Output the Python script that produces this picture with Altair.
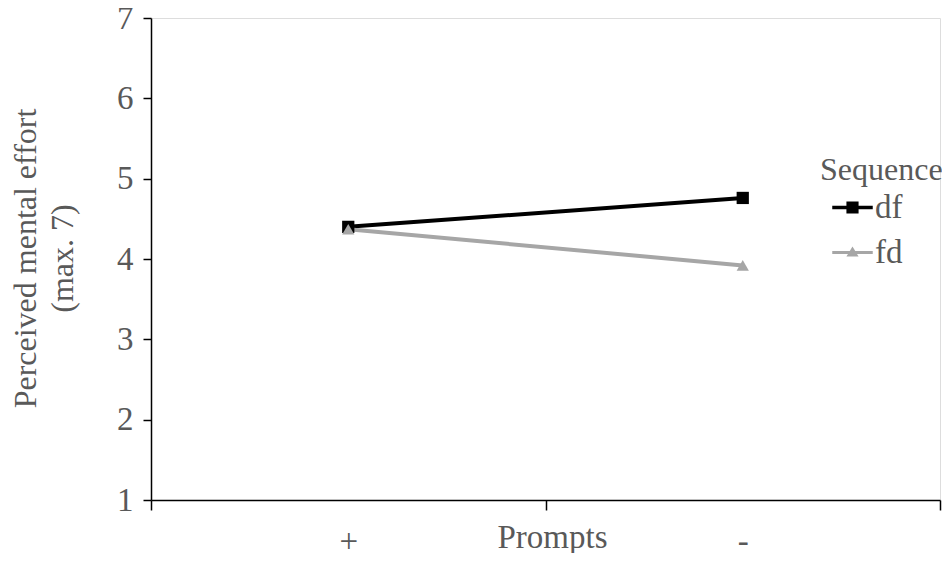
import altair as alt
import pandas as pd

prompts = ["+", "-"]
series = ["df", "fd"]
df_values = [4.40, 4.76]
fd_values = [4.37, 3.92]
y_ticks = [1, 2, 3, 4, 5, 6, 7]

rows = []
for s, vals in zip(series, [df_values, fd_values]):
    for p, v in zip(prompts, vals):
        rows.append({"prompt": p, "series": s, "effort": v})
data = pd.DataFrame(rows)

colors = ["#000000", "#a6a6a6"]
FONT = "Liberation Serif"
TXT = "#595959"
FS = 33

sq_path = "M-1,-0.09H1V0.09H-1Z M-0.3,-0.3H0.3V0.3H-0.3Z"
tri_path = "M-1,-0.07H1V0.07H-1Z M0,-0.3L0.3,0.2L-0.3,0.2Z"

x = alt.X(
    "prompt:N",
    sort=prompts,
    scale=alt.Scale(paddingInner=0, paddingOuter=0),
    axis=alt.Axis(
        title="Prompts",
        tickBand="extent",
        labelAngle=0,
        labelFont=FONT,
        labelFontSize=FS,
        labelColor=TXT,
        labelPadding=15,
        tickSize=10,
        tickColor="#000000",
        tickWidth=1.5,
        domainColor="#000000",
        domainWidth=1.5,
        grid=False,
        titleFont=FONT,
        titleFontSize=FS,
        titleFontWeight="normal",
        titleColor=TXT,
        titleX=401,
        titleY=47,
        titleBaseline="alphabetic",
        titleAlign="center",
    ),
)
y = alt.Y(
    "effort:Q",
    scale=alt.Scale(domain=[1, 7]),
    axis=alt.Axis(
        values=y_ticks,
        title=["Perceived mental effort", "(max. 7)"],
        labelFont=FONT,
        labelFontSize=FS,
        labelColor=TXT,
        labelPadding=10,
        tickSize=8,
        tickColor="#000000",
        tickWidth=1.5,
        domainColor="#000000",
        domainWidth=1.5,
        grid=False,
        titleFont=FONT,
        titleFontSize=32,
        titleFontWeight="normal",
        titleColor=TXT,
        titleAngle=-90,
        titleBaseline="top",
        titleAlign="center",
        titleLineHeight=37,
        titleX=-141,
        titleY=240,
    ),
)
color = alt.Color("series:N", scale=alt.Scale(domain=series, range=colors), legend=None)

line = alt.Chart(data).mark_line(strokeWidth=4).encode(x=x, y=y, color=color)
points = alt.Chart(data).mark_point(filled=True, size=150, opacity=1).encode(
    x=x,
    y=y,
    color=color,
    shape=alt.Shape("series:N", scale=alt.Scale(domain=series, range=["square", "triangle-up"]), legend=None),
)

leg = alt.Legend(
    orient="none",
    legendX=669,
    legendY=137,
    title="Sequence",
    titleFont=FONT,
    titleFontSize=32,
    titleFontWeight="normal",
    titleColor=TXT,
    titlePadding=0,
    labelFont=FONT,
    labelFontSize=FS,
    labelColor=TXT,
    labelOffset=2,
    symbolOffset=12,
    symbolSize=1640,
    symbolStrokeWidth=0,
    rowPadding=7,
)
legend_layer = (
    alt.Chart(data)
    .transform_calculate(Sequence="datum.series")
    .transform_filter("false")
    .mark_point(filled=True, size=1640, opacity=1)
    .encode(
        x=x,
        y=y,
        color=alt.Color("Sequence:N", scale=alt.Scale(domain=series, range=colors), legend=leg),
        shape=alt.Shape("Sequence:N", scale=alt.Scale(domain=series, range=[sq_path, tri_path]), legend=leg),
    )
)

chart = (
    alt.layer(line, points, legend_layer)
    .resolve_scale(color="independent", shape="independent")
    .properties(
        width=789,
        height=482,
        autosize=alt.AutoSizeParams(type="none"),
        padding={"left": 143, "top": 10, "right": 2, "bottom": 53},
    )
    .configure_view(stroke=None)
    .configure(font=FONT)
)

chart.save("out.html", embed_options={"renderer": "svg", "actions": False})
